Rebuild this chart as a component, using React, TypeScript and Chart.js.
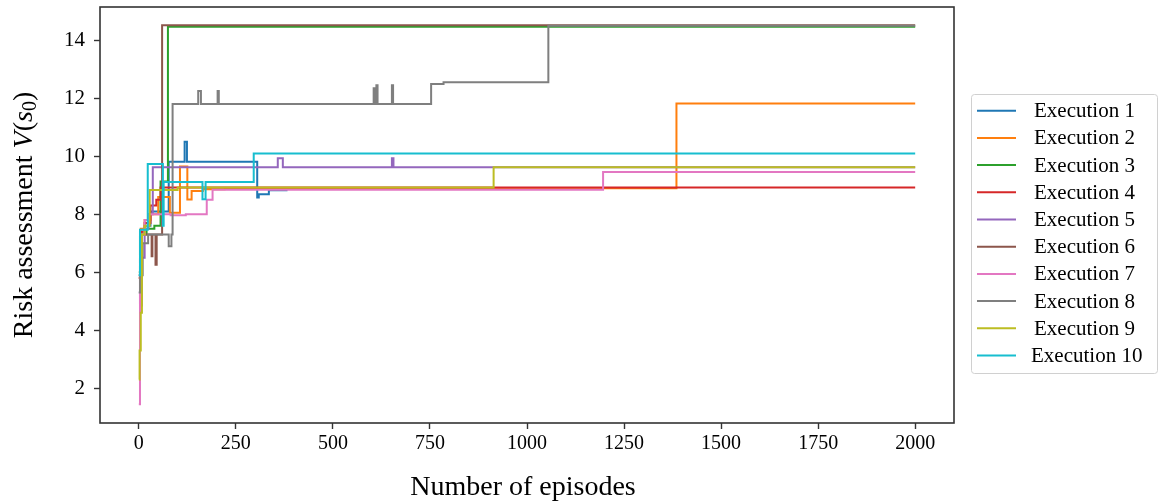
import React, { useEffect, useRef } from 'react';
import { Chart, registerables } from 'chart.js';
Chart.register(...registerables);

const FONT = '"Liberation Serif", "Times New Roman", serif';

const xTicks = [0, 250, 500, 750, 1000, 1250, 1500, 1750, 2000];
const yTicks = [2, 4, 6, 8, 10, 12, 14];

const seriesNames = [
  'Execution 1', 'Execution 2', 'Execution 3', 'Execution 4', 'Execution 5',
  'Execution 6', 'Execution 7', 'Execution 8', 'Execution 9', 'Execution 10',
];
const seriesColors = [
  '#1f77b4', '#ff7f0e', '#2ca02c', '#d62728', '#9467bd',
  '#8c564b', '#e377c2', '#7f7f7f', '#bcbd22', '#17becf',
];

// Episodes where the value changes, and the new value from that episode on
const ep1 = [0, 4, 15, 30, 77, 118, 124, 305, 309, 335, 383];
const v1 = [5.9, 7.4, 7.6, 8.1, 9.81, 10.5, 9.81, 8.58, 8.69, 8.83, 8.83];

const ep2 = [0, 5, 15, 30, 50, 80, 106, 125, 136, 165, 221, 1385, 2000];
const v2 = [5.8, 7.5, 7.8, 8.0, 8.6, 8.05, 9.65, 8.51, 8.8, 8.86, 8.9, 11.82, 11.82];

const ep3 = [0, 5, 20, 40, 56, 75, 2000];
const v3 = [6.0, 7.3, 7.5, 7.6, 9.13, 14.47, 14.47];

const ep4 = [0, 5, 15, 30, 45, 56, 2000];
const v4 = [5.8, 7.4, 7.7, 8.3, 8.5, 8.92, 8.92];

const ep5 = [0, 3, 8, 15, 25, 36, 358, 371, 652, 656, 2000];
const v5 = [5.3, 4.85, 6.5, 7.5, 8.0, 9.62, 9.93, 9.62, 9.93, 9.62, 9.62];

const ep6 = [0, 3, 20, 33, 35, 43, 46, 60, 2000];
const v6 = [5.9, 7.3, 7.3, 6.55, 7.3, 6.26, 7.3, 14.52, 14.52];

const ep7 = [0, 3, 8, 15, 25, 82, 121, 175, 190, 254, 1196, 2000];
const v7 = [1.45, 6.5, 7.3, 7.8, 8.0, 7.97, 8.0, 8.5, 8.85, 8.85, 9.46, 9.46];

const ep8 = [0, 3, 10, 24, 77, 84, 87, 153, 160, 203, 206, 605, 608, 612, 615, 652, 655, 753, 785, 1055, 2000];
const v8 = [5.3, 5.9, 7.0, 7.3, 6.9, 7.3, 11.8, 12.25, 11.8, 12.25, 11.8, 12.35, 11.8, 12.45, 11.8, 12.45, 11.8, 12.49, 12.55, 14.5, 14.5];

const ep9 = [0, 2, 5, 8, 15, 28, 100, 914, 2000];
const v9 = [2.3, 3.3, 4.6, 7.3, 7.6, 8.84, 8.92, 9.62, 9.62];

const ep10 = [0, 3, 23, 62, 64, 164, 172, 296, 2000];
const v10 = [5.9, 7.47, 9.73, 7.6, 9.11, 8.52, 9.11, 10.1, 10.1];

const allEpisodes = [ep1, ep2, ep3, ep4, ep5, ep6, ep7, ep8, ep9, ep10];
const allValues = [v1, v2, v3, v4, v5, v6, v7, v8, v9, v10];

const decorPlugin = {
  id: 'decor',
  afterDraw(chart: any) {
    const { ctx, chartArea: a } = chart;
    ctx.save();
    // frame
    ctx.strokeStyle = '#333';
    ctx.lineWidth = 1.6;
    ctx.strokeRect(a.left, a.top, a.right - a.left, a.bottom - a.top);

    // x title
    ctx.fillStyle = '#000';
    ctx.font = `28px ${FONT}`;
    ctx.textAlign = 'center';
    ctx.textBaseline = 'middle';
    ctx.fillText('Number of episodes', (a.left + a.right) / 2 - 4, 488);

    // y title with math parts
    const segs = [
      { t: 'Risk assessment ', f: `28px ${FONT}`, dy: 0 },
      { t: 'V', f: `italic 28px ${FONT}`, dy: 0 },
      { t: '(', f: `28px ${FONT}`, dy: 0 },
      { t: 's', f: `italic 28px ${FONT}`, dy: 0 },
      { t: '0', f: `20px ${FONT}`, dy: 6 },
      { t: ')', f: `28px ${FONT}`, dy: 0 },
    ];
    let total = 0;
    const widths = segs.map((s) => {
      ctx.font = s.f;
      const w = ctx.measureText(s.t).width;
      total += w;
      return w;
    });
    ctx.translate(25, (a.top + a.bottom) / 2);
    ctx.rotate(-Math.PI / 2);
    ctx.textAlign = 'left';
    ctx.textBaseline = 'middle';
    let x = -total / 2;
    segs.forEach((s, i) => {
      ctx.font = s.f;
      ctx.fillText(s.t, x, s.dy);
      x += widths[i];
    });
    ctx.setTransform(1, 0, 0, 1, 0, 0);

    // legend
    const lx = 971.5, ly = 94.5, lw = 186, lh = 279;
    ctx.fillStyle = 'rgba(255,255,255,0.8)';
    ctx.strokeStyle = '#d0d0d0';
    ctx.lineWidth = 1;
    ctx.beginPath();
    ctx.roundRect(lx, ly, lw, lh, 3);
    ctx.fill();
    ctx.stroke();
    ctx.font = `21px ${FONT}`;
    ctx.textAlign = 'left';
    ctx.textBaseline = 'middle';
    seriesNames.forEach((name, i) => {
      const y = 110.7 + i * 27.2;
      ctx.strokeStyle = seriesColors[i];
      ctx.lineWidth = 2;
      ctx.beginPath();
      ctx.moveTo(977, y);
      ctx.lineTo(1016, y);
      ctx.stroke();
      ctx.fillStyle = '#000';
      ctx.fillText(name, i === 9 ? 1031 : 1034, y + 1);
    });
    ctx.restore();
  },
};

export default function App() {
  const ref = useRef<HTMLCanvasElement>(null);
  useEffect(() => {
    if (!ref.current) return;
    const datasets = seriesNames.map((name, i) => ({
      label: name,
      data: allEpisodes[i].map((e, j) => ({ x: e, y: allValues[i][j] })),
      borderColor: seriesColors[i],
      backgroundColor: seriesColors[i],
      borderWidth: 2,
      pointRadius: 0,
      stepped: 'before' as const,
      fill: false,
      order: 10 - i,
    }));
    const chart = new Chart(ref.current, {
      type: 'line',
      data: { datasets },
      plugins: [decorPlugin],
      options: {
        responsive: false,
        animation: false,
        layout: { padding: { top: 7, right: 206, left: 0, bottom: 0 } },
        plugins: { legend: { display: false }, tooltip: { enabled: false } },
        scales: {
          x: {
            type: 'linear',
            min: -100,
            max: 2100,
            afterBuildTicks: (s: any) => { s.ticks = xTicks.map((v) => ({ value: v })); },
            afterFit: (s: any) => { s.height = 81; s.paddingLeft = 0; s.paddingRight = 0; },
            ticks: { font: { family: FONT, size: 20 }, color: '#000', maxRotation: 0, padding: 3, callback: (v: any) => String(v) },
            grid: { drawOnChartArea: false, drawTicks: true, tickLength: 6, tickColor: '#333', tickWidth: 1.4 },
            border: { display: false },
          },
          y: {
            type: 'linear',
            min: 0.8,
            max: 15.15,
            afterBuildTicks: (s: any) => { s.ticks = yTicks.map((v) => ({ value: v })); },
            afterFit: (s: any) => { s.width = 100; s.paddingTop = 0; s.paddingBottom = 0; },
            ticks: { font: { family: FONT, size: 21 }, color: '#000', padding: 9, callback: (v: any) => String(v) },
            grid: { drawOnChartArea: false, drawTicks: true, tickLength: 6, tickColor: '#333', tickWidth: 1.4 },
            border: { display: false },
          },
        },
      },
    });
    return () => chart.destroy();
  }, []);
  return (
    <div style={{ position: 'absolute', left: 0, top: 0, width: 1160, height: 504, background: '#fff' }}>
      <canvas ref={ref} width={1160} height={504} />
    </div>
  );
}
